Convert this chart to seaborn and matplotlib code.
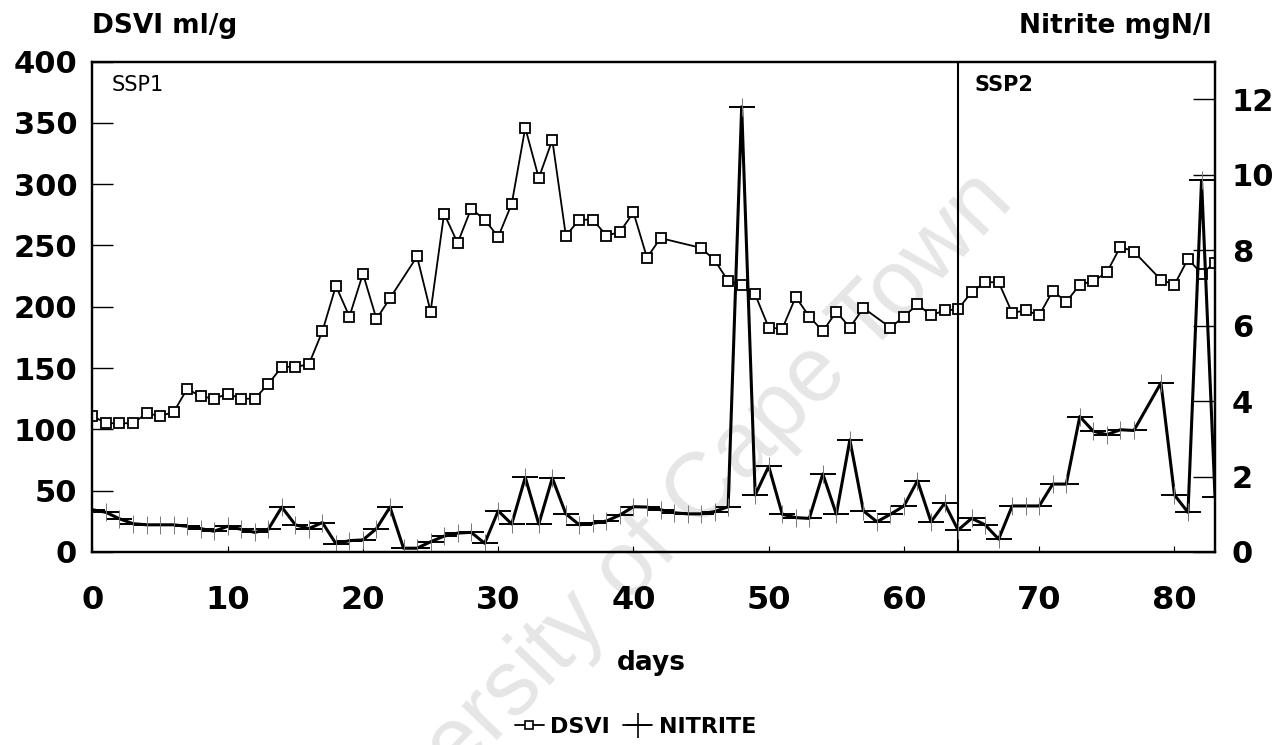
import matplotlib
matplotlib.use("Agg")
import matplotlib.pyplot as plt
from matplotlib.lines import Line2D
import seaborn as sns

# ---------------- data ----------------
dsvi_days = [0, 1, 2, 3, 4, 5, 6, 7, 8, 9, 10, 11, 12, 13, 14, 15, 16, 17, 18, 19,
             20, 21, 22, 24, 25, 26, 27, 28, 29, 30, 31, 32, 33, 34, 35, 36, 37, 38,
             39, 40, 41, 42, 45, 46, 47, 48, 49, 50, 51, 52, 53, 54, 55, 56, 57, 59,
             60, 61, 62, 63, 64, 65, 66, 67, 68, 69, 70, 71, 72, 73, 74, 75, 76, 77,
             79, 80, 81, 82, 83]
dsvi_values = [111, 105, 105, 105, 113, 111, 114, 133, 127, 125, 129, 125, 125, 137,
               151, 151, 153, 180, 217, 192, 227, 190, 207, 241, 196, 276, 252, 280,
               271, 257, 284, 346, 305, 336, 258, 271, 271, 258, 261, 277, 240, 256,
               248, 238, 221, 218, 210, 183, 182, 208, 192, 180, 196, 183, 199, 183,
               192, 202, 193, 197, 198, 212, 220, 220, 195, 197, 193, 213, 204, 218,
               221, 228, 249, 245, 222, 218, 239, 227, 236]

nitrite_days = [0, 1, 2, 3, 4, 5, 6, 7, 8, 9, 10, 11, 12, 13, 14, 15, 16, 17, 18, 19,
                20, 21, 22, 23, 24, 25, 26, 27, 28, 29, 30, 31, 32, 33, 34, 35, 36, 37,
                38, 39, 40, 41, 42, 43, 44, 45, 46, 47, 48, 49, 50, 51, 52, 53, 54, 55,
                56, 57, 58, 59, 60, 61, 62, 63, 64, 65, 66, 67, 68, 69, 70, 71, 72, 73,
                74, 75, 76, 77, 79, 80, 81, 82, 83]
nitrite_values = [1.12, 1.05, 0.88, 0.75, 0.72, 0.72, 0.72, 0.68, 0.62, 0.55, 0.68,
                  0.60, 0.52, 0.60, 1.19, 0.72, 0.62, 0.78, 0.22, 0.30, 0.32, 0.62,
                  1.19, 0.10, 0.10, 0.27, 0.42, 0.50, 0.52, 0.23, 1.09, 0.74, 1.98,
                  0.74, 1.96, 1.01, 0.72, 0.76, 0.82, 0.98, 1.20, 1.19, 1.12, 1.04,
                  1.01, 1.01, 1.07, 1.20, 11.80, 1.51, 2.27, 1.00, 0.91, 0.89, 2.07,
                  1.00, 2.97, 1.09, 0.80, 1.00, 1.22, 1.89, 0.80, 1.29, 0.58, 0.89,
                  0.72, 0.34, 1.22, 1.22, 1.22, 1.80, 1.80, 3.59, 3.20, 3.11, 3.24,
                  3.22, 4.48, 1.51, 1.05, 9.85, 1.45]

x_ticks = [0, 10, 20, 30, 40, 50, 60, 70, 80]
dsvi_ticks = [0, 50, 100, 150, 200, 250, 300, 350, 400]
nitrite_ticks = [0, 2, 4, 6, 8, 10, 12]
phase_change_day = 64
phase_labels = ["SSP1", "SSP2"]
series_names = ["DSVI", "NITRITE"]

# ---------------- style ----------------
sns.set_theme(style="white")
plt.rcParams["font.family"] = ["DejaVu Sans"]
plt.rcParams["font.weight"] = "bold"
for key in ("text.color", "axes.labelcolor", "xtick.color", "ytick.color",
            "axes.edgecolor"):
    plt.rcParams[key] = "black"

fig = plt.figure(figsize=(12.84, 7.45), dpi=100)
fig.patch.set_facecolor("white")

# watermark (behind everything)
fig.text(656 / 1284, 204 / 745, "University of Cape Town", rotation=46,
         rotation_mode="anchor", ha="center", va="center", fontsize=66,
         color="#e6e6e6", fontweight="normal", family=["Liberation Sans"],
         zorder=-5)

ax = fig.add_axes([0.0720, 0.2591, 0.8743, 0.6583])
ax.patch.set_visible(False)
ax2 = ax.twinx()

# DSVI series
sns.lineplot(x=dsvi_days, y=dsvi_values, ax=ax, color="black", linewidth=1.3,
             marker="s", markersize=7, markerfacecolor="white",
             markeredgecolor="black", markeredgewidth=1.3, legend=False,
             errorbar=None)

# Nitrite series
sns.lineplot(x=nitrite_days, y=nitrite_values, ax=ax2, color="black",
             linewidth=2.2, marker="_", markersize=19, markeredgewidth=1.4,
             markeredgecolor="black", legend=False, errorbar=None)
ax2.plot(nitrite_days, nitrite_values, linestyle="none", marker="|",
         markersize=13, markeredgewidth=0.7, color="#777777")

ax.axvline(phase_change_day, color="black", linewidth=1.5)

# axes limits and ticks
ax.set_xlim(0, 83)
ax.set_ylim(0, 400)
ax2.set_ylim(0, 13)
ax.set_xticks(x_ticks)
ax.set_yticks(dsvi_ticks)
ax2.set_yticks(nitrite_ticks)
ax.set_xticklabels([str(t) for t in x_ticks])
ax.set_yticklabels([str(t) for t in dsvi_ticks])
ax2.set_yticklabels([str(t) for t in nitrite_ticks])

ax.tick_params(axis="y", direction="in", length=15, width=1.0, labelsize=22,
               pad=11, left=True, right=False, colors="black")
ax2.tick_params(axis="y", direction="in", length=16, width=1.0, labelsize=22,
                pad=12, right=True, left=False, colors="black")
ax.tick_params(axis="x", direction="in", length=4, width=0.8, labelsize=23,
               pad=24, bottom=True, colors="black")

for a in (ax, ax2):
    for s in a.spines.values():
        s.set_color("black")
        s.set_linewidth(1.6)

# axis titles
ax.set_ylabel("DSVI ml/g", rotation=0, ha="left", va="baseline", fontsize=19,
              fontweight="bold", color="black")
ax.yaxis.set_label_coords(0.0, 1.058)
ax2.set_ylabel("Nitrite mgN/l", rotation=0, ha="right", va="baseline",
               fontsize=19, fontweight="bold", color="black")
ax2.yaxis.set_label_coords(0.997, 1.058)
ax.set_xlabel("days", fontsize=19, fontweight="bold", va="baseline",
              color="black")
ax.xaxis.set_label_coords(0.4975, -0.2406)

# phase labels
ax.text(1.45, 376, phase_labels[0], fontsize=15, fontweight="normal",
        ha="left", va="baseline", color="black")
ax.text(phase_change_day + 1.25, 376, phase_labels[1], fontsize=15,
        fontweight="bold", ha="left", va="baseline", color="black")

# legend
handles = [
    Line2D([], [], color="black", linewidth=1.3, marker="s", markersize=6,
           markerfacecolor="white", markeredgewidth=1.2),
    Line2D([], [], color="black", linewidth=1.3, marker="+", markersize=18,
           markeredgewidth=1.2),
]
fig.legend(handles, series_names, loc="center", bbox_to_anchor=(0.495, 0.024),
           ncol=2, frameon=False, prop={"size": 16, "weight": "bold"},
           handlelength=1.3, handletextpad=0.3, columnspacing=0.6,
           labelcolor="black")

fig.savefig("out.png", dpi=100, facecolor="white")
